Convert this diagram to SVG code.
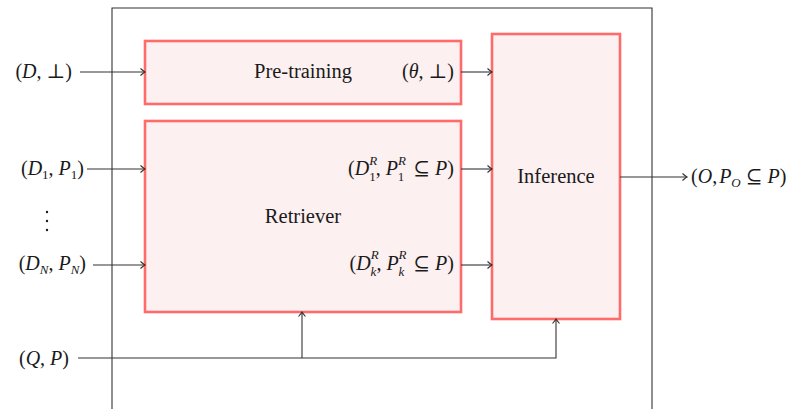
<svg xmlns="http://www.w3.org/2000/svg" width="789" height="409" viewBox="0 0 789 409">
<style>
.box{fill:#fdf0f0;stroke:#ff6b6b;stroke-width:2.6}
.lbl{font-family:"Liberation Serif","DejaVu Serif",serif;font-size:20.5px;fill:#1a1a1a}
.m{font-family:"Liberation Serif","DejaVu Serif",serif;font-size:20px;fill:#1a1a1a}
.i{font-style:italic}
.s{font-size:13px}
.c{fill:none;stroke:#333;stroke-width:1.1}
</style>
<defs>
<marker id="ah" markerWidth="10" markerHeight="10" refX="8" refY="5" orient="auto" markerUnits="userSpaceOnUse">
<path d="M3.5,1.5 Q6.5,4.2 8,5 Q6.5,5.8 3.5,8.5" fill="none" stroke="#333" stroke-width="1.1"/>
</marker>
</defs>
<g id="frame">
<path d="M112,409 V8 H652 V409" fill="none" stroke="#333" stroke-width="1.1"/>
</g>
<g id="pretraining">
<rect class="box" x="145" y="41" width="316" height="63"/>
<text class="lbl" x="303" y="78" text-anchor="middle">Pre-training</text>
<text class="m" x="454" y="78" text-anchor="end">(<tspan class="i">θ</tspan>, ⊥)</text>
</g>
<g id="retriever">
<rect class="box" x="145" y="121" width="316" height="191"/>
<text class="lbl" x="303" y="223" text-anchor="middle">Retriever</text>
<text class="m" x="454" y="175" text-anchor="end">(<tspan class="i">D</tspan><tspan class="s i" dy="-10">R</tspan><tspan class="s" dx="-8" dy="16">1</tspan><tspan dy="-6">, </tspan><tspan class="i">P</tspan><tspan class="s i" dy="-10">R</tspan><tspan class="s" dx="-8" dy="16">1</tspan><tspan dy="-6" dx="4"> ⊆ </tspan><tspan class="i">P</tspan>)</text>
<text class="m" x="454" y="270" text-anchor="end">(<tspan class="i">D</tspan><tspan class="s i" dy="-11">R</tspan><tspan class="s i" dx="-8" dy="17">k</tspan><tspan dy="-6">, </tspan><tspan class="i">P</tspan><tspan class="s i" dy="-11">R</tspan><tspan class="s i" dx="-8" dy="17">k</tspan><tspan dy="-6" dx="4"> ⊆ </tspan><tspan class="i">P</tspan>)</text>
</g>
<g id="inference">
<rect class="box" x="492" y="34" width="128" height="285"/>
<text class="lbl" x="556" y="183" text-anchor="middle">Inference</text>
</g>
<g id="inputs">
<text class="m" x="72" y="78" text-anchor="end">(<tspan class="i">D</tspan>, ⊥)</text>
<text class="m" x="84" y="175" text-anchor="end">(<tspan class="i">D</tspan><tspan class="s" dy="4">1</tspan><tspan dy="-4">, </tspan><tspan class="i">P</tspan><tspan class="s" dy="4">1</tspan><tspan dy="-4">)</tspan></text>
<text class="m" x="86" y="270" text-anchor="end">(<tspan class="i">D</tspan><tspan class="s i" dy="4">N</tspan><tspan dy="-4">, </tspan><tspan class="i">P</tspan><tspan class="s i" dy="4">N</tspan><tspan dy="-4">)</tspan></text>
<text class="m" x="69" y="365" text-anchor="end">(<tspan class="i">Q</tspan>, <tspan class="i">P</tspan>)</text>
<g fill="#1a1a1a"><circle cx="47" cy="212" r="1.2"/><circle cx="47" cy="221" r="1.2"/><circle cx="47" cy="230" r="1.2"/></g>
<text class="m" x="691" y="183">(<tspan class="i">O</tspan>,<tspan dx="2" class="i">P</tspan><tspan class="s i" dy="4">O</tspan><tspan dy="-4"> ⊆ </tspan><tspan class="i">P</tspan>)</text>
</g>
<g id="connectors">
<line class="c" x1="80" y1="72" x2="145" y2="72" marker-end="url(#ah)"/>
<line class="c" x1="461" y1="72" x2="492" y2="72" marker-end="url(#ah)"/>
<line class="c" x1="87" y1="169" x2="145" y2="169" marker-end="url(#ah)"/>
<line class="c" x1="93" y1="265" x2="145" y2="265" marker-end="url(#ah)"/>
<line class="c" x1="461" y1="169" x2="492" y2="169" marker-end="url(#ah)"/>
<line class="c" x1="461" y1="265" x2="492" y2="265" marker-end="url(#ah)"/>
<line class="c" x1="620" y1="177" x2="687" y2="177" marker-end="url(#ah)"/>
<path class="c" d="M78,358 H556 V319" marker-end="url(#ah)"/>
<path class="c" d="M302,358 V312" marker-end="url(#ah)"/>
</g>
</svg>
